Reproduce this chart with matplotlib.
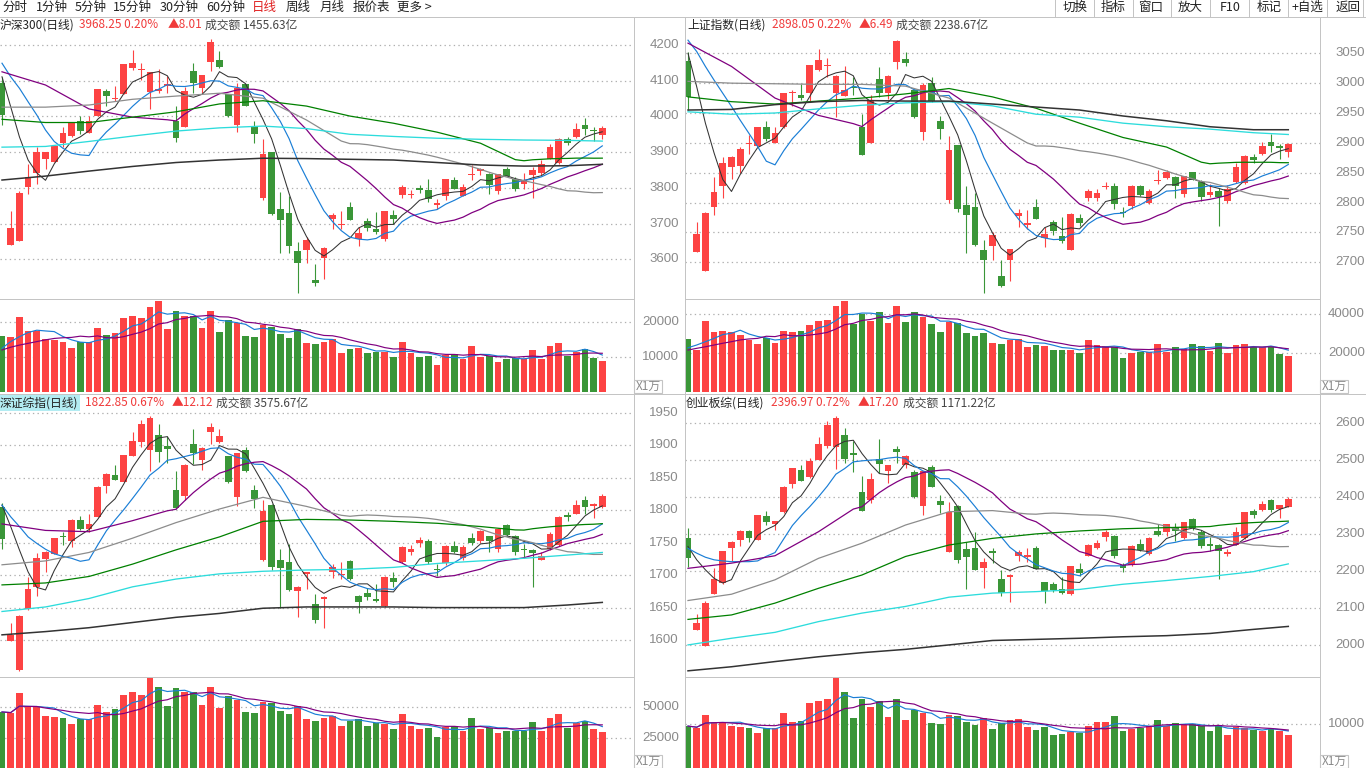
import numpy as np
import pandas as pd
import matplotlib
matplotlib.use('Agg')
import matplotlib.pyplot as plt
from matplotlib.lines import Line2D
from matplotlib.patches import Rectangle
from matplotlib.transforms import blended_transform_factory

plt.rcParams['font.family'] = ['Noto Sans CJK SC', 'DejaVu Sans']

W, H = 1366, 768
RED = '#fd4343'
GREEN = '#3a9638'
GRID = '#b0b0b0'
BORDER = '#c4c4c4'
LABEL = '#8a8a8a'

# ---------------- data (70 daily bars) ----------------
# 沪深300
hs_open = [4095, 3641, 3652, 3803, 3843, 3880, 3873, 3927, 3945, 3986,
           3955, 4001, 4071, 4049, 4064, 4137, 4131, 4069, 4073, 4087,
           3988, 3971, 4126, 4081, 4153, 4158, 4063, 3976, 4091, 3974,
           3773, 3900, 3741, 3730, 3623, 3627, 3542, 3604, 3713, 3697,
           3747, 3657, 3707, 3684, 3657, 3723, 3781, 3780, 3800, 3794,
           3754, 3778, 3822, 3778, 3836, 3849, 3839, 3790, 3853, 3826,
           3811, 3836, 3841, 3881, 3869, 3936, 3943, 3975, 3963, 3949]
hs_high = [4111, 3734, 3790, 3867, 3914, 3901, 3919, 3971, 3985, 4001,
           4001, 4078, 4077, 4085, 4148, 4186, 4149, 4125, 4132, 4113,
           4029, 4083, 4149, 4117, 4216, 4182, 4064, 4093, 4092, 3987,
           3937, 3901, 3788, 3777, 3649, 3663, 3587, 3634, 3731, 3735,
           3761, 3690, 3717, 3733, 3736, 3738, 3807, 3794, 3807, 3825,
           3768, 3826, 3831, 3811, 3864, 3857, 3843, 3839, 3859, 3831,
           3843, 3859, 3878, 3922, 3940, 3942, 3981, 3997, 3970, 3974]
hs_low = [3976, 3641, 3652, 3783, 3811, 3852, 3873, 3915, 3943, 3951,
          3955, 4000, 4029, 4042, 4063, 4130, 4102, 4022, 4065, 4065,
          3929, 3970, 4065, 4065, 4128, 4135, 3998, 3957, 4029, 3925,
          3766, 3724, 3619, 3617, 3505, 3591, 3524, 3546, 3685, 3684,
          3710, 3638, 3678, 3671, 3652, 3699, 3773, 3771, 3787, 3761,
          3742, 3766, 3797, 3777, 3823, 3835, 3782, 3783, 3832, 3790,
          3796, 3771, 3836, 3880, 3868, 3920, 3939, 3947, 3932, 3936]
hs_close = [4004, 3688, 3787, 3831, 3900, 3900, 3917, 3953, 3984, 3960,
            3986, 4077, 4058, 4051, 4147, 4149, 4133, 4124, 4075, 4089,
            3941, 4071, 4093, 4116, 4208, 4139, 4000, 4081, 4030, 3951,
            3895, 3727, 3710, 3637, 3591, 3654, 3533, 3632, 3724, 3699,
            3711, 3674, 3689, 3677, 3735, 3714, 3802, 3782, 3794, 3769,
            3756, 3825, 3798, 3803, 3838, 3851, 3809, 3838, 3833, 3798,
            3822, 3850, 3867, 3915, 3937, 3927, 3965, 3965, 3960, 3968]
hs_vol = [16100, 15800, 21400, 17500, 17500, 15000, 14900, 14400, 12700, 14200,
          14200, 18400, 16300, 16800, 21200, 21700, 21200, 24300, 26000, 18000,
          23000, 21800, 21800, 18400, 23200, 17200, 20600, 19600, 16100, 15800,
          19100, 18700, 16500, 15500, 18000, 13900, 13700, 14300, 15100, 11000,
          12300, 12700, 11000, 11500, 11300, 10000, 14200, 11000, 9900, 10300,
          7700, 10600, 10800, 9400, 13100, 9900, 10300, 8700, 9400, 9600,
          9400, 12000, 9400, 13100, 13900, 10300, 11500, 12300, 9800, 8900]

# 上证指数
sh_open = [3037, 2718, 2686, 2793, 2827, 2860, 2861, 2898, 2895, 2926,
           2900, 2926, 2984, 2980, 2983, 3022, 3028, 2983, 2979, 2994,
           2926, 2900, 3007, 2983, 3036, 3040, 2989, 2919, 3001, 2937,
           2804, 2896, 2796, 2792, 2720, 2727, 2677, 2704, 2778, 2763,
           2793, 2740, 2768, 2744, 2721, 2774, 2807, 2807, 2826, 2828,
           2785, 2794, 2827, 2799, 2836, 2841, 2842, 2815, 2851, 2835,
           2813, 2820, 2802, 2834, 2832, 2876, 2882, 2902, 2894, 2884]
sh_high = [3052, 2768, 2785, 2843, 2877, 2878, 2893, 2913, 2927, 2936,
           2927, 2984, 2989, 2998, 3031, 3058, 3042, 3013, 3029, 3010,
           2948, 2980, 3027, 3013, 3073, 3052, 2990, 3000, 3011, 2945,
           2912, 2897, 2827, 2816, 2737, 2751, 2704, 2723, 2789, 2788,
           2806, 2759, 2771, 2775, 2782, 2781, 2822, 2822, 2834, 2832,
           2792, 2829, 2830, 2823, 2855, 2854, 2844, 2845, 2852, 2838,
           2831, 2824, 2830, 2866, 2880, 2882, 2902, 2915, 2898, 2899]
sh_low = [2955, 2718, 2686, 2779, 2808, 2840, 2849, 2881, 2894, 2903,
          2899, 2925, 2961, 2972, 2969, 3021, 3011, 2944, 2978, 2980,
          2879, 2899, 2977, 2973, 3023, 3029, 2941, 2905, 2969, 2907,
          2800, 2785, 2716, 2728, 2648, 2703, 2658, 2668, 2759, 2756,
          2772, 2725, 2745, 2732, 2720, 2760, 2803, 2802, 2822, 2790,
          2775, 2789, 2811, 2798, 2831, 2840, 2807, 2810, 2837, 2802,
          2810, 2760, 2800, 2833, 2831, 2866, 2880, 2885, 2873, 2876]
sh_close = [2977, 2748, 2783, 2818, 2867, 2877, 2890, 2900, 2926, 2907,
            2916, 2983, 2985, 2975, 3030, 3039, 3030, 3012, 2989, 2992,
            2880, 2972, 2983, 3012, 3071, 3034, 2944, 2997, 2970, 2923,
            2888, 2789, 2779, 2729, 2703, 2746, 2660, 2722, 2782, 2766,
            2773, 2747, 2752, 2735, 2781, 2765, 2820, 2816, 2827, 2798,
            2782, 2828, 2812, 2820, 2837, 2852, 2828, 2844, 2838, 2810,
            2817, 2810, 2822, 2860, 2878, 2871, 2895, 2895, 2892, 2898]
sh_vol = [27200, 21500, 36400, 30900, 31300, 30600, 29200, 26700, 24600, 27500,
          25300, 31300, 30900, 31500, 34400, 36400, 36900, 44100, 46700, 34700,
          40000, 36600, 41200, 35600, 44100, 36100, 41200, 38600, 34900, 30900,
          36100, 35200, 30300, 28700, 30300, 25100, 24600, 26700, 27400, 23300,
          24100, 23600, 21500, 21500, 21500, 20000, 26700, 24100, 23600, 23300,
          17600, 19800, 20700, 20300, 24600, 20700, 23100, 21900, 24600, 23600,
          21000, 25100, 19800, 24100, 24500, 23100, 23100, 23100, 19500, 18500]

# 深证综指
sz_open = [1805, 1599, 1554, 1648, 1681, 1725, 1733, 1760, 1752, 1785,
           1771, 1790, 1838, 1854, 1844, 1884, 1906, 1893, 1916, 1899,
           1831, 1822, 1902, 1877, 1920, 1905, 1883, 1821, 1893, 1831,
           1723, 1808, 1723, 1720, 1676, 1703, 1656, 1664, 1705, 1701,
           1722, 1668, 1673, 1664, 1653, 1695, 1721, 1735, 1749, 1752,
           1709, 1718, 1745, 1726, 1757, 1752, 1760, 1740, 1777, 1761,
           1740, 1739, 1724, 1741, 1747, 1793, 1795, 1816, 1806, 1805]
sz_high = [1812, 1627, 1639, 1697, 1734, 1737, 1758, 1767, 1786, 1791,
           1794, 1837, 1857, 1870, 1886, 1921, 1939, 1945, 1933, 1915,
           1860, 1871, 1925, 1897, 1934, 1926, 1884, 1889, 1897, 1839,
           1816, 1809, 1741, 1748, 1683, 1705, 1671, 1668, 1717, 1721,
           1723, 1669, 1680, 1687, 1698, 1705, 1745, 1747, 1759, 1755,
           1717, 1746, 1752, 1747, 1765, 1769, 1761, 1772, 1779, 1762,
           1748, 1740, 1735, 1767, 1791, 1798, 1816, 1822, 1811, 1825]
sz_low = [1740, 1598, 1553, 1647, 1668, 1705, 1732, 1746, 1744, 1770,
          1767, 1789, 1826, 1846, 1843, 1883, 1897, 1861, 1875, 1873,
          1802, 1816, 1871, 1862, 1902, 1903, 1842, 1806, 1859, 1803,
          1722, 1708, 1649, 1676, 1635, 1678, 1627, 1618, 1695, 1694,
          1693, 1641, 1661, 1658, 1651, 1682, 1718, 1731, 1744, 1717,
          1698, 1716, 1734, 1724, 1747, 1749, 1735, 1736, 1761, 1731,
          1726, 1682, 1723, 1739, 1745, 1784, 1794, 1795, 1788, 1804]
sz_close = [1756, 1608, 1637, 1679, 1726, 1736, 1757, 1759, 1785, 1771,
            1779, 1836, 1856, 1847, 1885, 1907, 1933, 1943, 1890, 1895,
            1803, 1870, 1889, 1896, 1929, 1915, 1843, 1888, 1860, 1818,
            1799, 1712, 1711, 1677, 1682, 1704, 1631, 1666, 1713, 1702,
            1694, 1658, 1666, 1660, 1697, 1690, 1744, 1740, 1754, 1721,
            1708, 1745, 1735, 1744, 1749, 1768, 1752, 1771, 1762, 1736,
            1739, 1734, 1730, 1764, 1790, 1789, 1808, 1805, 1810, 1822]
sz_vol = [46000, 45000, 61000, 50000, 50000, 43000, 42000, 41000, 36000, 40000,
          40000, 52000, 46000, 48000, 60000, 62000, 60000, 73500, 66000, 51000,
          65000, 62000, 62000, 52000, 66000, 49000, 59000, 56000, 46000, 45000,
          54000, 53000, 47000, 44000, 51000, 40000, 39000, 41000, 43000, 35000,
          39000, 40000, 35000, 37000, 36000, 32000, 44000, 35000, 32000, 33000,
          26000, 34000, 35000, 31000, 41000, 32000, 33000, 29000, 31000, 31000,
          31000, 38000, 31000, 41000, 44000, 33000, 37000, 39000, 32000, 30000]

# 创业板综
cy_open = [2289, 2041, 1998, 2139, 2168, 2264, 2285, 2310, 2285, 2350,
           2328, 2359, 2436, 2474, 2454, 2501, 2539, 2535, 2569, 2521,
           2415, 2393, 2503, 2471, 2531, 2487, 2467, 2377, 2481, 2391,
           2253, 2377, 2260, 2264, 2210, 2256, 2178, 2184, 2242, 2240,
           2264, 2170, 2166, 2151, 2139, 2205, 2241, 2262, 2292, 2296,
           2217, 2217, 2274, 2247, 2310, 2305, 2319, 2291, 2341, 2307,
           2274, 2271, 2247, 2271, 2289, 2364, 2366, 2393, 2368, 2375]
cy_high = [2316, 2085, 2121, 2208, 2255, 2281, 2312, 2312, 2353, 2364,
           2337, 2430, 2479, 2487, 2505, 2564, 2605, 2620, 2587, 2551,
           2458, 2465, 2557, 2488, 2539, 2513, 2474, 2472, 2487, 2406,
           2386, 2378, 2280, 2307, 2235, 2262, 2204, 2193, 2258, 2262,
           2267, 2171, 2172, 2184, 2214, 2222, 2274, 2285, 2312, 2297,
           2223, 2270, 2287, 2294, 2327, 2328, 2330, 2333, 2343, 2312,
           2294, 2274, 2260, 2319, 2360, 2368, 2390, 2395, 2380, 2400]
cy_low = [2211, 2040, 1997, 2138, 2166, 2229, 2267, 2278, 2284, 2325,
          2312, 2358, 2424, 2444, 2453, 2500, 2532, 2477, 2494, 2469,
          2363, 2384, 2465, 2438, 2492, 2478, 2399, 2352, 2428, 2357,
          2252, 2223, 2151, 2203, 2154, 2222, 2132, 2118, 2229, 2224,
          2205, 2115, 2145, 2139, 2136, 2186, 2240, 2260, 2283, 2235,
          2199, 2214, 2256, 2244, 2296, 2296, 2283, 2287, 2312, 2262,
          2256, 2178, 2242, 2270, 2287, 2343, 2364, 2361, 2343, 2374]
cy_close = [2235, 2061, 2114, 2178, 2254, 2280, 2310, 2289, 2352, 2332,
            2336, 2429, 2478, 2445, 2498, 2544, 2596, 2614, 2503, 2514,
            2364, 2449, 2490, 2487, 2523, 2512, 2400, 2471, 2429, 2379,
            2361, 2231, 2238, 2204, 2226, 2249, 2142, 2190, 2251, 2242,
            2206, 2147, 2150, 2142, 2213, 2196, 2271, 2276, 2305, 2240,
            2208, 2269, 2258, 2291, 2298, 2327, 2310, 2332, 2316, 2269,
            2269, 2256, 2253, 2307, 2359, 2352, 2381, 2366, 2379, 2396]
cy_vol = [9500, 9000, 12000, 10500, 10500, 9500, 9300, 9000, 8000, 9000,
          9000, 12500, 10300, 10600, 14500, 15000, 15500, 20200, 17000, 11300,
          15500, 13700, 15000, 11600, 15500, 10800, 13000, 12300, 10100, 9900,
          12000, 11800, 10400, 9800, 11300, 8800, 10220, 10740, 10960, 9240,
          8720, 9320, 7460, 7830, 8200, 7980, 9470, 10370, 10370, 11700,
          8350, 8870, 9100, 9470, 10740, 9470, 10070, 9840, 10000, 9470,
          8500, 9840, 7460, 9320, 9100, 8720, 8500, 8870, 8350, 7600]

# moving-average values at the left edge (they depend on bars before the window)
hs_ma5_head = [4111, 4027, 3943, 3878]
hs_ma10_head = [4149, 4111, 4079, 4041, 4004, 3962, 3930, 3911, 3897]
sh_ma5_head = [3050, 2994, 2933, 2883]
sh_ma10_head = [3072, 3053, 3028, 3005, 2983, 2961, 2938, 2916, 2894]
sz_ma5_head = [1808, 1775, 1739, 1705]
sz_ma10_head = [1808, 1790, 1775, 1759, 1749, 1740, 1733, 1729, 1726]
cy_ma5_head = [2267, 2231, 2204, 2181]
cy_ma10_head = [2262, 2249, 2238, 2231, 2228, 2226, 2226, 2226, 2228]

hs_vma5_head = [12500, 14400, 15800, 17000]
hs_vma10_head = [12000, 12800, 13400, 13900, 14400, 14900, 15300, 15500, 15600]
sh_vma5_head = [22700, 24100, 25800, 27500]
sh_vma10_head = [21500, 22400, 23200, 24100, 25000, 25800, 26700, 27200, 27500]

# MA20 / MA40 / MA60 read at every 5th bar until their window is full
ma_idx = [0, 5, 10, 15, 20, 25, 30, 35, 40, 45, 50, 55, 60, 65, 69]
hs_ma20_head = [4125, 4088, 4021, 3998]
hs_ma40_head = [4026, 4026, 4032, 4048, 4057, 4065, 4051, 3990]
hs_ma60_head = [3992, 3983, 3983, 3998, 4013, 4035, 4044, 4029, 4001, 3981, 3956, 3925]
sh_ma20_head = [3067, 3028, 2975, 2946]
sh_ma40_head = [3003, 3000, 2999, 2998, 2998, 2995, 2975, 2933]
sh_ma60_head = [2977, 2969, 2965, 2970, 2975, 2982, 2991, 2977, 2958, 2933, 2909, 2893]
sz_ma20_head = [1779, 1769, 1767, 1784]
sz_ma40_head = [1716, 1722, 1735, 1757, 1781, 1802, 1820, 1806]
sz_ma60_head = [1685, 1688, 1698, 1717, 1739, 1759, 1783, 1786, 1785, 1783, 1780, 1775]
cy_ma20_head = [2208, 2222, 2242, 2307]
cy_ma40_head = [2121, 2138, 2177, 2235, 2276, 2325, 2361, 2364]
cy_ma60_head = [2070, 2082, 2114, 2154, 2190, 2240, 2271, 2289, 2301, 2309, 2315, 2318]

# MA120 / MA250 read at every 5th bar
hs_ma120 = [3914, 3916, 3930, 3945, 3959, 3968, 3973, 3966, 3950, 3944, 3939, 3936, 3934, 3933, 3931]
hs_ma250 = [3822, 3833, 3847, 3860, 3871, 3878, 3883, 3882, 3880, 3878, 3871, 3864, 3861, 3862, 3866]
sh_ma120 = [2952, 2948, 2950, 2957, 2963, 2967, 2969, 2962, 2948, 2943, 2933, 2927, 2923, 2917, 2914]
sh_ma250 = [2955, 2956, 2964, 2969, 2971, 2970, 2970, 2965, 2960, 2955, 2945, 2937, 2927, 2922, 2922]
sz_ma120 = [1644, 1651, 1664, 1682, 1694, 1702, 1706, 1708, 1709, 1712, 1718, 1722, 1726, 1731, 1735]
sz_ma250 = [1608, 1613, 1619, 1627, 1635, 1641, 1649, 1651, 1651, 1651, 1650, 1650, 1650, 1654, 1658]
cy_ma120 = [2001, 2019, 2035, 2064, 2087, 2105, 2130, 2141, 2145, 2151, 2165, 2175, 2186, 2199, 2220]
cy_ma250 = [1931, 1942, 1956, 1969, 1980, 1989, 2001, 2013, 2016, 2019, 2023, 2026, 2032, 2043, 2051]

toolbar_left = ['分时', '1分钟', '5分钟', '15分钟', '30分钟', '60分钟', '日线', '周线', '月线', '报价表', '更多 >']
toolbar_left_x = [2, 36, 75, 113, 160, 206, 252, 286, 320, 353, 397]
toolbar_right = ['切换', '指标', '窗口', '放大', 'F10', '标记', '+自选', '返回']
toolbar_right_x = [1075, 1113, 1151, 1190, 1230, 1269, 1307, 1348]
toolbar_sep_x = [1055, 1094, 1133, 1171, 1210, 1249, 1288, 1327, 1363]

fig = plt.figure(figsize=(W / 100, H / 100), dpi=100)
fig.patch.set_facecolor('white')


def fx(x):
    return x / W


def fy(y):
    return 1 - y / H


def add_ax(x0, y0, x1, y1):
    ax = fig.add_axes([x0 / W, 1 - y1 / H, (x1 - x0) / W, (y1 - y0) / H])
    ax.set_facecolor('white')
    for s in ax.spines.values():
        s.set_visible(False)
    ax.set_xticks([])
    ax.set_yticks([])
    return ax


def fline(xs, ys, color=BORDER, lw=1.0):
    fig.add_artist(Line2D([fx(x) for x in xs], [fy(y) for y in ys], color=color, lw=lw * 0.72))


def right_labels(ax, ticks, labels, x0, x1, xr):
    tr = blended_transform_factory(ax.transAxes, ax.transData)
    xa = (xr - x0) / (x1 - x0)
    for t, s in zip(ticks, labels):
        ax.axhline(t, color=GRID, lw=0.9, ls=(0, (1.1, 2.6)), zorder=0)
        ax.text(xa, t, s, transform=tr, ha='right', va='center', fontsize=9.5,
                color=LABEL, family='Liberation Sans', clip_on=False)


def moving(vals, n, head):
    # rolling mean of the bars; left-edge values (before a full window)
    m = pd.Series(vals, dtype=float).rolling(n, min_periods=1).mean().to_numpy()
    if head is not None:
        m[:len(head)] = head
    return m


def long_ma(vals, n, head):
    roll = pd.Series(vals, dtype=float).rolling(n).mean().to_numpy()
    hx = [i for i in ma_idx if i < n - 1][:len(head)]
    xs = hx + list(range(n - 1, len(vals)))
    ys = list(head[:len(hx)]) + list(roll[n - 1:])
    return xs, ys


def panel(x0, x1, ytop, ymid, ybot, first_px, plim, vlim, o, h, l, c, v,
          heads, vheads, longheads, fixedmas, pticks, vticks, vlabels):
    o, h, l, c, v = map(np.asarray, (o, h, l, c, v))
    n = len(c)
    idx = np.arange(n)
    step = 8.7
    xlim = ((x0 - first_px) / step, (x1 - first_px) / step)
    xr = 679 if x0 < 600 else 1365

    axp = add_ax(x0, ytop, x1, ymid)
    axp.set_xlim(*xlim)
    axp.set_ylim(*plim)
    right_labels(axp, pticks, [str(t) for t in pticks], x0, x1, xr)

    col = np.where(c >= o, RED, GREEN)
    minh = (plim[1] - plim[0]) / (ymid - ytop) * 1.3
    axp.vlines(idx, l, h, colors=col, lw=0.8, zorder=2)
    body = np.maximum(np.abs(c - o), minh)
    axp.bar(idx, body, bottom=np.minimum(o, c) - (body - np.abs(c - o)) / 2,
            width=0.77, color=col, lw=0, zorder=2)

    axp.plot(idx, moving(c, 5, heads[0]), color='#333333', lw=0.75, zorder=3)
    axp.plot(idx, moving(c, 10, heads[1]), color='#1a7ed6', lw=0.85, zorder=3)
    for (win, hd), cc in zip(zip((20, 40, 60), longheads), ('#800080', '#8c8c8c', '#008000')):
        xs, ys = long_ma(c, win, hd)
        axp.plot(xs, ys, color=cc, lw=0.9, zorder=3)
    axp.plot(ma_idx, fixedmas[0], color='#2ddcdc', lw=0.95, zorder=3)
    axp.plot(ma_idx, fixedmas[1], color='#333333', lw=1.1, zorder=3)

    axv = add_ax(x0, ymid, x1, ybot)
    axv.set_xlim(*xlim)
    axv.set_ylim(*vlim)
    right_labels(axv, vticks, vlabels, x0, x1, xr)
    axv.bar(idx, v, width=0.77, color=col, lw=0, zorder=2)
    axv.plot(idx, moving(v, 5, vheads[0]), color='#1a7ed6', lw=0.85, zorder=3)
    axv.plot(idx, moving(v, 10, vheads[1]), color='#800080', lw=0.85, zorder=3)


# top-left: 沪深300
panel(0, 633, 33, 299, 392, 2, (3488.9, 4233.6), (0, 26570),
      hs_open, hs_high, hs_low, hs_close, hs_vol,
      (hs_ma5_head, hs_ma10_head), (hs_vma5_head, hs_vma10_head),
      (hs_ma20_head, hs_ma40_head, hs_ma60_head), (hs_ma120, hs_ma250),
      [3600, 3700, 3800, 3900, 4000, 4100, 4200], [10000, 20000], ['10000', '20000'])
# top-right: 上证指数
panel(685, 1320, 33, 299, 392, 688, (2638.5, 3084), (0, 47690),
      sh_open, sh_high, sh_low, sh_close, sh_vol,
      (sh_ma5_head, sh_ma10_head), (sh_vma5_head, sh_vma10_head),
      (sh_ma20_head, sh_ma40_head, sh_ma60_head), (sh_ma120, sh_ma250),
      [2700, 2750, 2800, 2850, 2900, 2950, 3000, 3050], [20000, 40000], ['20000', '40000'])
# bottom-left: 深证综指
panel(0, 633, 411, 677, 769, 2, (1543, 1953.1), (0, 74190),
      sz_open, sz_high, sz_low, sz_close, sz_vol,
      (sz_ma5_head, sz_ma10_head), (None, None),
      (sz_ma20_head, sz_ma40_head, sz_ma60_head), (sz_ma120, sz_ma250),
      [1600, 1650, 1700, 1750, 1800, 1850, 1900, 1950], [25000, 50000], ['25000', '50000'])
# bottom-right: 创业板综
panel(685, 1320, 411, 677, 769, 688, (1914.3, 2633.2), (0, 20360),
      cy_open, cy_high, cy_low, cy_close, cy_vol,
      (cy_ma5_head, cy_ma10_head), (None, None),
      (cy_ma20_head, cy_ma40_head, cy_ma60_head), (cy_ma120, cy_ma250),
      [2000, 2100, 2200, 2300, 2400, 2500, 2600], [10000], ['10000'])

# frame lines
fline([0, W], [16.5, 16.5])
fline([0, W], [393.5, 393.5])
fline([0, 633.5], [299, 299])
fline([685, 1320], [299, 299])
fline([0, 633.5], [677, 677])
fline([685, 1320], [677, 677])
for xv in (633.5, 685, 1320):
    fline([xv, xv], [17, 768])
for xv in toolbar_sep_x:
    fline([xv, xv], [0, 16])

# toolbar
for s, xv in zip(toolbar_left, toolbar_left_x):
    fig.text(fx(xv), fy(7.5), s, fontsize=9, va='center', ha='left',
             color='#e02020' if s == '日线' else '#222222')
for s, xv in zip(toolbar_right, toolbar_right_x):
    fig.text(fx(xv), fy(7.5), s, fontsize=9, va='center', ha='center', color='#222222')

# panel headers
headers = [
    (0, 25, '沪深300(日线)', 79, '3968.25 0.20%', 168, '▲8.01', 205, '成交额 1455.63亿', False),
    (687, 25, '上证指数(日线)', 772, '2898.05 0.22%', 859, '▲6.49', 896, '成交额 2238.67亿', False),
    (0, 403, '深证综指(日线)', 85, '1822.85 0.67%', 172, '▲12.12', 216, '成交额 3575.67亿', True),
    (686, 403, '创业板综(日线)', 771, '2396.97 0.72%', 858, '▲17.20', 903, '成交额 1171.22亿', False),
]
HF = 8.5
for x_name, yy, name, x_val, val, x_chg, chg, x_amt, amt, sel in headers:
    kw = {}
    if sel:
        kw['bbox'] = dict(boxstyle='square,pad=0.12', fc='#b3ecf2', ec='none')
    fig.text(fx(x_name), fy(yy), name, fontsize=HF, va='center', ha='left', color='#222222', **kw)
    fig.text(fx(x_val), fy(yy), val, fontsize=HF, va='center', ha='left', color='#f03a3a')
    fig.text(fx(x_chg), fy(yy), chg, fontsize=HF, va='center', ha='left', color='#f03a3a')
    fig.text(fx(x_amt), fy(yy), amt, fontsize=HF, va='center', ha='left', color='#444444')

# X1万 unit boxes
for bx, by in [(634, 380), (1320, 380), (634, 755), (1320, 755)]:
    fig.add_artist(Rectangle((fx(bx), fy(by + 13)), 28 / W, 13 / H, transform=fig.transFigure,
                             fc='white', ec=BORDER, lw=0.8))
    fig.text(fx(bx + 14), fy(by + 6.5), 'X1万', fontsize=8.5, ha='center', va='center', color=LABEL)

fig.savefig('out.png', dpi=100, facecolor='white')
